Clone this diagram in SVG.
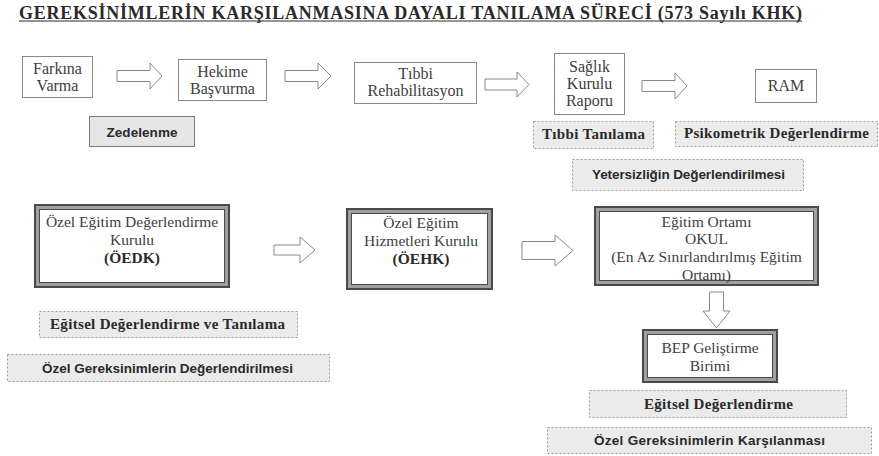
<svg xmlns="http://www.w3.org/2000/svg" width="879" height="456" viewBox="0 0 879 456">
<style>
.bg{fill:#ffffff}
.box{fill:#ffffff;stroke:#8a8a8a;stroke-width:1}
.dbo{fill:#a0a0a0;stroke:#4a4a4a;stroke-width:2}
.dbi{fill:#ffffff;stroke:#4a4a4a;stroke-width:1}
.lbl{fill:#ebebeb;stroke:#9a9a9a;stroke-width:1;stroke-dasharray:2 2}
.lbs{fill:#e6e6e6;stroke:#7a7a7a;stroke-width:1}
.arr{fill:#ffffff;stroke:#8a8a8a;stroke-width:1;stroke-linejoin:miter}
.t{font-family:'Liberation Serif','DejaVu Serif','Times New Roman',serif;font-size:16px;fill:#404040;text-anchor:middle}
.tb{font-family:'Liberation Serif','DejaVu Serif','Times New Roman',serif;font-size:15px;font-weight:bold;fill:#2a2a2a;text-anchor:middle}
.sb{font-family:'Liberation Sans',Arial,sans-serif;font-size:13.5px;font-weight:bold;fill:#2a2a2a;text-anchor:middle}
.title{font-family:'Liberation Serif','DejaVu Serif','Times New Roman',serif;font-size:18px;font-weight:bold;fill:#2a2a2a}
</style>
<rect class="bg" x="0" y="0" width="879" height="456"/>
<g id="title">
<text class="title" x="19" y="18.5" textLength="783">GEREKSİNİMLERİN KARŞILANMASINA DAYALI TANILAMA SÜRECİ (573 Sayılı KHK)</text>
<line x1="19" y1="21" x2="802" y2="21" stroke="#2a2a2a" stroke-width="1"/>
</g>
<g id="connectors">
<path class="arr" d="M117,70.5 H150 V63 L162,76 L150,89 V81.5 H117 Z"/>
<path class="arr" d="M285,70.5 H318 V63 L331,76 L318,89 V81.5 H285 Z"/>
<path class="arr" d="M485,79 H517 V72 L529,84.5 L517,97 V90 H485 Z"/>
<path class="arr" d="M642,80.5 H675 V73 L687,86 L675,99 V91.5 H642 Z"/>
<path class="arr" d="M274,245 H300 V237 L315,250 L300,263 V255 H274 Z"/>
<path class="arr" d="M522,241.5 H555 V235 L573,250.5 L555,266 V259.5 H522 Z"/>
<path class="arr" d="M709.5,292 V311 H703 L716.5,328 L730,311 H723.5 V292 Z"/>
</g>
<g id="farkina-varma">
<rect class="box" x="22.5" y="56.5" width="70" height="41"/>
<text class="t" x="57.5" y="74">Farkına</text>
<text class="t" x="57.5" y="91">Varma</text>
</g>
<g id="hekime-basvurma">
<rect class="box" x="178.5" y="59.5" width="88" height="41"/>
<text class="t" x="222.5" y="77">Hekime</text>
<text class="t" x="222.5" y="94">Başvurma</text>
</g>
<g id="tibbi-rehabilitasyon">
<rect class="box" x="354.5" y="62.5" width="122" height="41"/>
<text class="t" x="415.5" y="79">Tıbbi</text>
<text class="t" x="415.5" y="96">Rehabilitasyon</text>
</g>
<g id="saglik-kurulu-raporu">
<rect class="box" x="554.5" y="53.5" width="70" height="61"/>
<text class="t" x="589.5" y="72">Sağlık</text>
<text class="t" x="589.5" y="89">Kurulu</text>
<text class="t" x="589.5" y="106">Raporu</text>
</g>
<g id="ram">
<rect class="box" x="755.5" y="69.5" width="61" height="33"/>
<text class="t" x="786" y="91">RAM</text>
</g>
<g id="zedelenme">
<rect class="lbs" x="89.5" y="116.5" width="105" height="30"/>
<text class="sb" x="142" y="137" textLength="71">Zedelenme</text>
</g>
<g id="tibbi-tanilama">
<rect class="lbl" x="533.5" y="121.5" width="120" height="27"/>
<text class="tb" x="593.5" y="139" textLength="103">Tıbbi Tanılama</text>
</g>
<g id="psikometrik-degerlendirme">
<rect class="lbl" x="675.5" y="121.5" width="202" height="25"/>
<text class="tb" x="776.5" y="138" textLength="185">Psikometrik Değerlendirme</text>
</g>
<g id="yetersizligin-degerlendirilmesi">
<rect class="lbl" x="572.5" y="159.5" width="231" height="31"/>
<text class="sb" x="688.5" y="179" textLength="193">Yetersizliğin Değerlendirilmesi</text>
</g>
<g id="oedk">
<rect class="dbo" x="35" y="205" width="194" height="82"/>
<rect class="dbi" x="39.5" y="209.5" width="185" height="73"/>
<text class="t" x="132" y="227" style="font-size:15.5px">Özel Eğitim  Değerlendirme</text>
<text class="t" x="132" y="245" style="font-size:15.5px">Kurulu</text>
<text class="t" x="132" y="263" style="font-size:15.5px;font-weight:bold;fill:#2a2a2a">(ÖEDK)</text>
</g>
<g id="oehk">
<rect class="dbo" x="347" y="209" width="145" height="80"/>
<rect class="dbi" x="351.5" y="213.5" width="136" height="71"/>
<text class="t" x="421" y="228" style="font-size:15.5px">Özel Eğitim</text>
<text class="t" x="421" y="246" style="font-size:15.5px">Hizmetleri Kurulu</text>
<text class="t" x="421" y="264" style="font-size:15.5px;font-weight:bold;fill:#2a2a2a">(ÖEHK)</text>
</g>
<g id="egitim-ortami">
<rect class="dbo" x="595" y="207" width="223" height="78"/>
<rect class="dbi" x="599.5" y="211.5" width="214" height="69"/>
<text class="t" x="706.5" y="227" style="font-size:15.5px">Eğitim  Ortamı</text>
<text class="t" x="706.5" y="244" style="font-size:15.5px">OKUL</text>
<text class="t" x="706.5" y="262" style="font-size:15.5px">(En Az Sınırlandırılmış Eğitim</text>
<text class="t" x="706.5" y="280" style="font-size:15.5px">Ortamı)</text>
</g>
<g id="bep-gelistirme-birimi">
<rect class="dbo" x="643" y="330" width="134" height="52"/>
<rect class="dbi" x="647.5" y="334.5" width="125" height="43"/>
<text class="t" x="710" y="353" style="font-size:15.5px">BEP Geliştirme</text>
<text class="t" x="710" y="371" style="font-size:15.5px">Birimi</text>
</g>
<g id="egitsel-degerlendirme-ve-tanilama">
<rect class="lbl" x="39.5" y="311.5" width="258" height="26"/>
<text class="tb" x="167.5" y="329" textLength="235">Eğitsel Değerlendirme ve Tanılama</text>
</g>
<g id="ozel-gereksinimlerin-degerlendirilmesi">
<rect class="lbl" x="7.5" y="354.5" width="322" height="27"/>
<text class="sb" x="167.5" y="373" textLength="251">Özel Gereksinimlerin Değerlendirilmesi</text>
</g>
<g id="egitsel-degerlendirme">
<rect class="lbl" x="589.5" y="390.5" width="257" height="27"/>
<text class="tb" x="718.5" y="409" textLength="149">Eğitsel Değerlendirme</text>
</g>
<g id="ozel-gereksinimlerin-karsilanmasi">
<rect class="lbl" x="547.5" y="427.5" width="324" height="26"/>
<text class="sb" x="709.5" y="445" textLength="231">Özel Gereksinimlerin Karşılanması</text>
</g>
</svg>
